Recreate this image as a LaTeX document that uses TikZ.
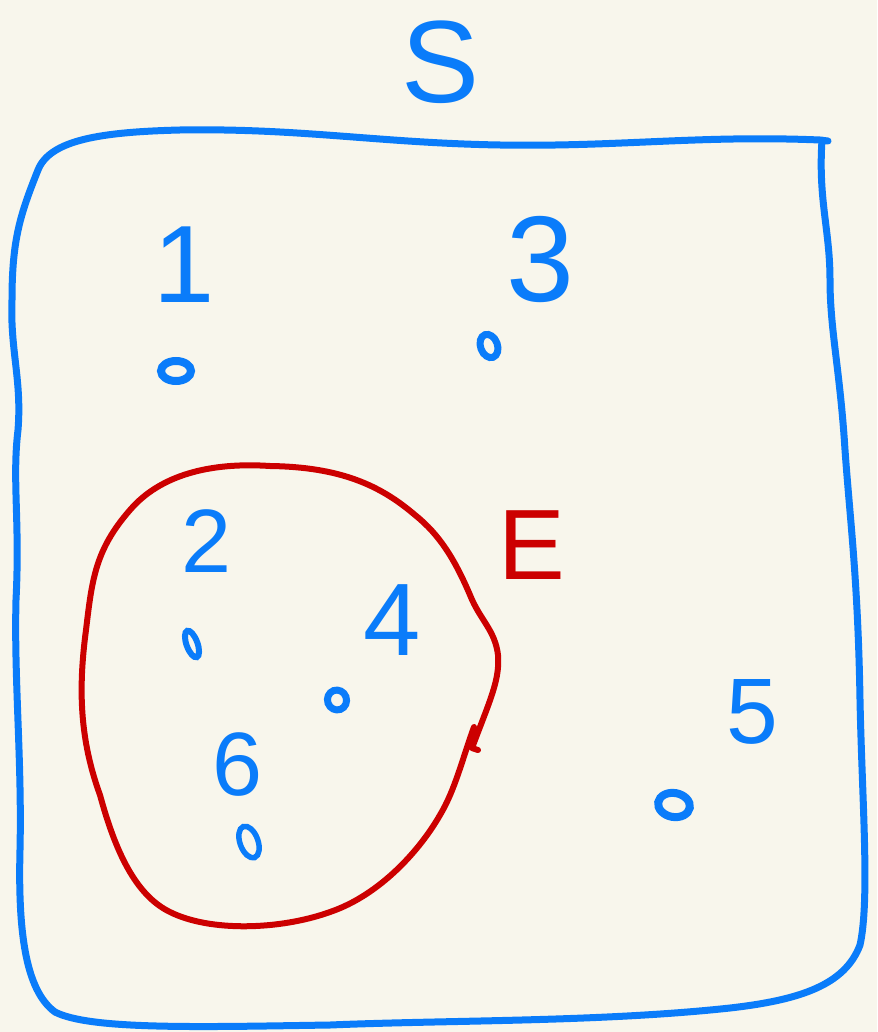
\documentclass[tikz,border=0pt]{standalone}
\usepackage{fontspec}
\setmainfont{Liberation Sans}
\usetikzlibrary{shapes.geometric}
\definecolor{bg}{HTML}{F8F6EC}
\definecolor{pen}{HTML}{0A7CFA}
\definecolor{redpen}{HTML}{CC0000}
\begin{document}
\begin{tikzpicture}[x=1pt,y=-1pt,
  stroke/.style={line width=7pt,line cap=round,line join=round},
  lbl/.style={inner sep=0pt,text=pen,font=\fontsize{#1}{#1}\selectfont},
  pt/.style={draw=pen,line width=7pt,ellipse,inner sep=0pt,minimum width=20pt,minimum height=13pt,rotate=20}]
\fill[bg] (0,0) rectangle (877,1032);
\useasboundingbox (0,0) rectangle (877,1032);
% outer set S
\draw[stroke,pen] (828,141) -- (820,140)
  .. controls (700,135) and (620,147) .. (500,145)
  .. controls (380,143) and (300,128) .. (180,130)
  .. controls (100,132) and (50,140) .. (38,170)
  .. controls (20,215) and (12,240) .. (12,300)
  .. controls (10,350) and (22,380) .. (18,430)
  .. controls (12,480) and (20,520) .. (16,600)
  .. controls (14,680) and (22,760) .. (20,850)
  .. controls (18,930) and (25,990) .. (55,1012)
  .. controls (90,1030) and (200,1027) .. (330,1025)
  .. controls (450,1020) and (600,1022) .. (730,1008)
  .. controls (800,1000) and (845,985) .. (860,945)
  .. controls (870,900) and (862,800) .. (860,700)
  .. controls (858,580) and (850,520) .. (845,450)
  .. controls (840,370) and (830,330) .. (830,280)
  .. controls (830,230) and (818,200) .. (822,140);
% event E
\draw[stroke,redpen,line width=6pt] (478,750) -- (472,748)
  .. controls (490,700) and (500,680) .. (498,655)
  .. controls (495,630) and (480,620) .. (470,595)
  .. controls (455,560) and (440,535) .. (415,515)
  .. controls (380,485) and (340,467) .. (270,466)
  .. controls (210,462) and (160,475) .. (130,510)
  .. controls (95,550) and (92,580) .. (86,630)
  .. controls (78,690) and (80,740) .. (100,795)
  .. controls (115,850) and (135,895) .. (170,912)
  .. controls (210,932) and (280,930) .. (330,912)
  .. controls (380,895) and (420,850) .. (440,815)
  .. controls (455,790) and (462,760) .. (474,727);
\node[inner sep=0pt,text=redpen,font=\fontsize{100}{100}\selectfont] (E) at (532,545) {E};
% labels
\node[lbl=117] (S) at (441,62) {S};
\node[lbl=110] (n1) at (184,265) {1};
\node[lbl=122] (n3) at (540,260) {3};
\node[lbl=90] (n2) at (207,541) {2};
\node[lbl=103] (n4) at (392,620) {4};
\node[lbl=90] (n6) at (238,765) {6};
\node[lbl=93] (n5) at (752,712) {5};
% outcomes
\node[pt,minimum width=30pt,minimum height=20pt,rotate=-20,line width=8pt] (p1) at (176,371) {};
\node[pt,minimum width=17pt,minimum height=24pt,rotate=0] (p3) at (489,346) {};
\node[pt,minimum width=11pt,minimum height=28pt,rotate=0,line width=6pt] (p2) at (192,644) {};
\node[pt,minimum width=19pt,minimum height=20pt] (p4) at (337,700) {};
\node[pt,minimum width=18pt,minimum height=33pt,rotate=0,line width=5.5pt] (p6) at (249,842) {};
\node[pt,minimum width=32pt,minimum height=24pt,rotate=-30,line width=8pt] (p5) at (674,805) {};
\end{tikzpicture}
\end{document}
